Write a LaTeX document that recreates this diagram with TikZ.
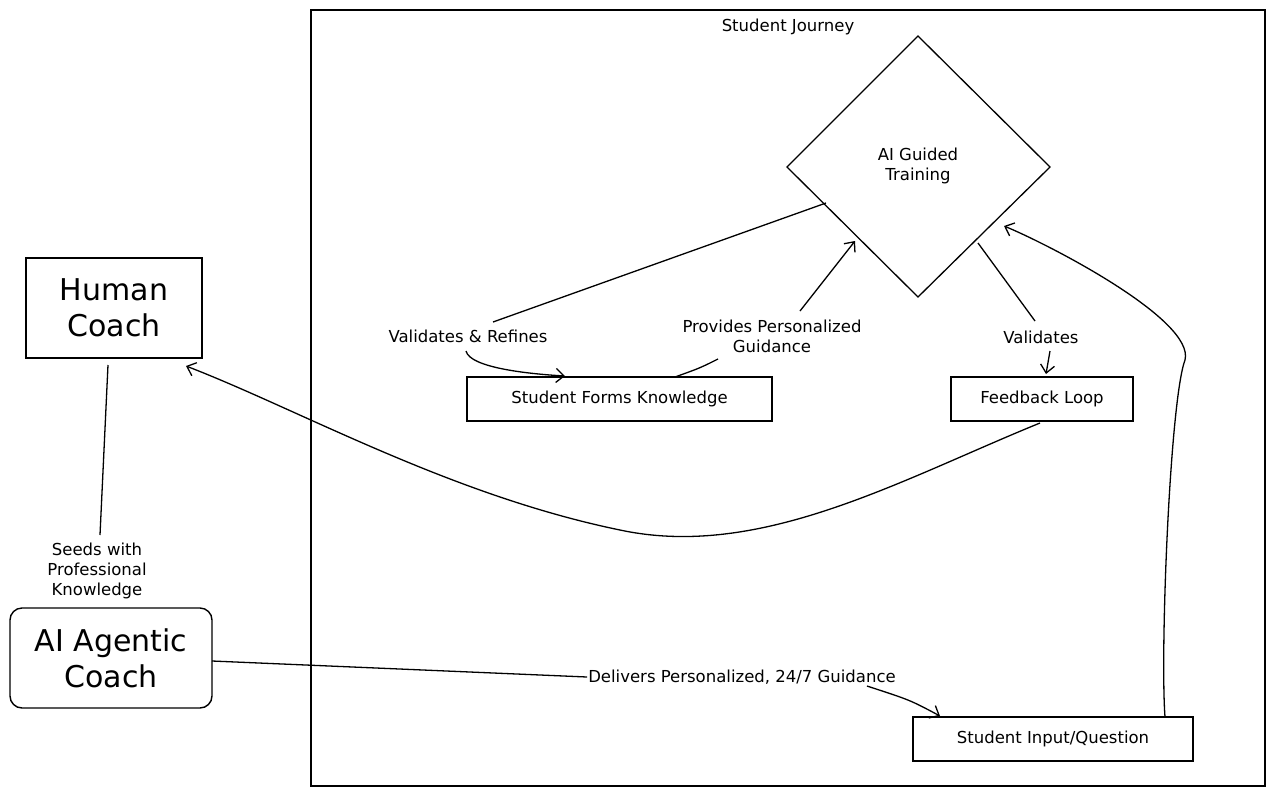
\documentclass[tikz,border=0pt]{standalone}
\usepackage{fontspec}
\setmainfont{DejaVu Sans}
\usetikzlibrary{arrows.meta}
\begin{document}
\begin{tikzpicture}[x=1pt,y=-1pt,
  box/.style={draw,line width=1.4pt,inner sep=0pt},
  lab/.style={font=\fontsize{16.5}{20}\selectfont,align=center,fill=white,inner sep=1pt},
  big/.style={font=\fontsize{30}{36}\selectfont,align=center},
  con/.style={line width=1.3pt},
  arr/.style={con,-{Straight Barb[length=8pt,width=14pt]}}]
\useasboundingbox (0,0) rectangle (1275,796);
\fill[white] (0,0) rectangle (1275,796);
\node[box,minimum width=954pt,minimum height=776pt] (frame) at (788,398) {};
\node[lab] (title) at (788,27) {Student Journey};
\draw[con] (918,36) coordinate (dt) -- (1050,167) coordinate (dr) -- (918,297) coordinate (db) -- (787,167) coordinate (dl) -- cycle;
\node[lab,fill=none] (ai) at (918,166) {AI Guided\\Training};
\node[box,minimum width=176pt,minimum height=100pt,big] (human) at (114,308) {Human\\Coach};
\node[box,rounded corners=12pt,minimum width=202pt,minimum height=100pt,big] (agent) at (111,658) {AI Agentic\\Coach};
\node[box,minimum width=305pt,minimum height=44pt,font=\fontsize{16.5}{20}\selectfont] (sfk) at (619.5,399) {Student Forms Knowledge};
\node[box,minimum width=182pt,minimum height=44pt,font=\fontsize{16.5}{20}\selectfont] (fl) at (1042,399) {Feedback Loop};
\node[box,minimum width=280pt,minimum height=44pt,font=\fontsize{16.5}{20}\selectfont] (siq) at (1053,739) {Student Input/Question};
\node[lab] (vr) at (468,336) {Validates \& Refines};
\node[lab] (ppg) at (772,336) {Provides Personalized\\Guidance};
\node[lab] (val) at (1041,337) {Validates};
\node[lab] (seed) at (97,571) {Seeds with\\Professional\\Knowledge};
\node[lab] (del) at (742,677) {Delivers Personalized, 24/7 Guidance};
% connectors
\coordinate (d1) at (826,203);
\draw[con] (d1) -- (493,322);
\draw[arr] (466,351) .. controls (470,368) and (530,374) .. (565,376);
\draw[con] (675,377) .. controls (700,368) .. (718,359);
\draw[arr] (800,311) -- (855,241);
\draw[con] (978,243) -- (1035,321);
\draw[arr] (1050,351) -- (1046,374);
\draw[arr] (1040,423) .. controls (900,480) and (760,560) .. (620,530) .. controls (450,495) and (300,410) .. (186,366);
\draw[con] (108,365) -- (100,535);
\draw[con] (212,661) -- (del.west);
\draw[arr] (del.east) ++(-30,9) .. controls (910,700) .. (940,716);
\draw[arr] (1165,717) .. controls (1160,650) and (1170,400) .. (1185,360) .. controls (1195,320) and (1050,245) .. (1004,226);
\end{tikzpicture}
\end{document}
